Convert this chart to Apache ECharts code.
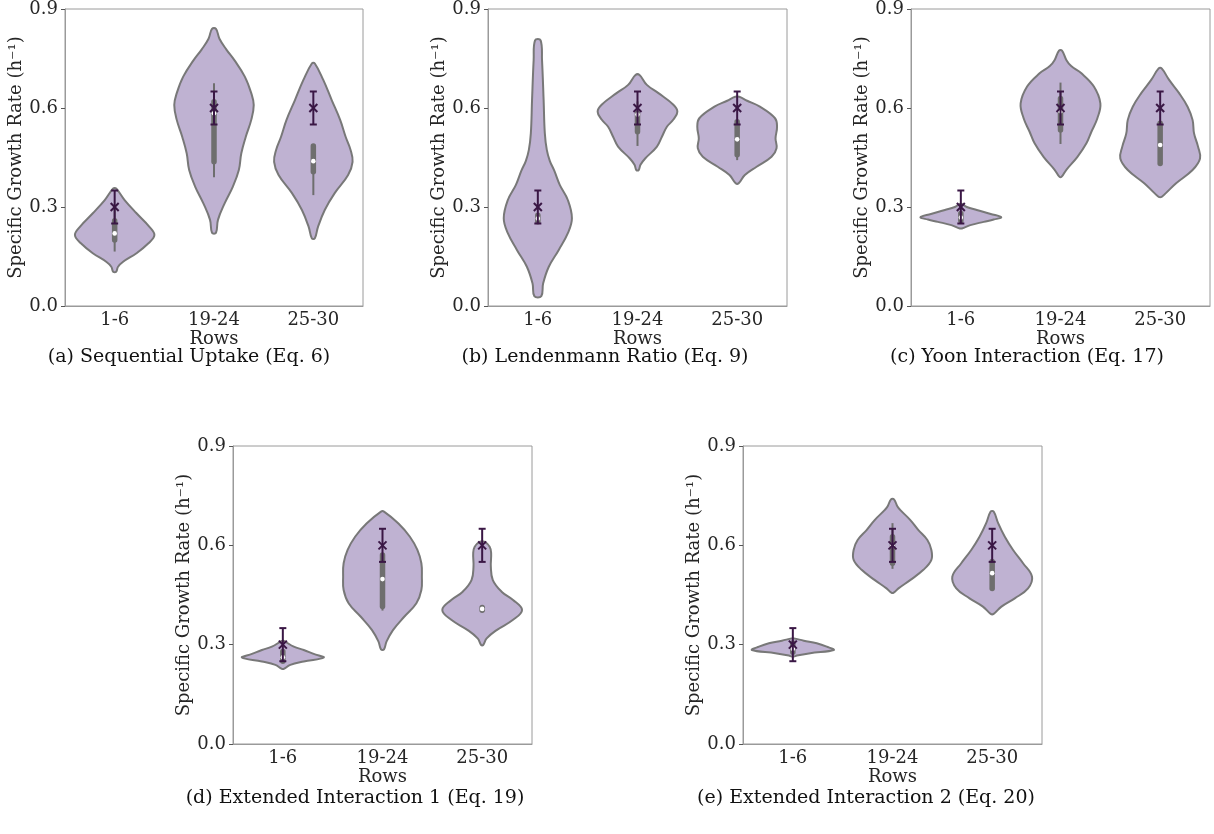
<!DOCTYPE html>
<html>
<head>
<meta charset="utf-8">
<script src="https://cdn.jsdelivr.net/npm/echarts@6/dist/echarts.min.js"></script>
<style>
  html, body { margin: 0; padding: 0; background: #fff; }
  #main { width: 1214px; height: 834px; }
</style>
</head>
<body>
<div id="main"></div>
<script>
// categories and ticks
const categories = ['1-6', '19-24', '25-30'];
const yTicks = [0, 0.3, 0.6, 0.9];
const panelTitles = [
  '(a) Sequential Uptake (Eq. 6)',
  '(b) Lendenmann Ratio (Eq. 9)',
  '(c) Yoon Interaction (Eq. 17)',
  '(d) Extended Interaction 1 (Eq. 19)',
  '(e) Extended Interaction 2 (Eq. 20)'
];

// mean +/- error, same in every panel
const meanValues = [0.3, 0.6, 0.6];
const errLow = [0.25, 0.55, 0.55];
const errHigh = [0.35, 0.65, 0.65];

// violin outlines: [value, half width in category units], top to bottom
const seqUptake = [
  [[0.356,0.015],[0.321,0.10],[0.281,0.22],[0.24,0.35],[0.215,0.40],[0.19,0.34],[0.16,0.22],[0.134,0.085],[0.119,0.034],[0.104,0.015]],
  [[0.84,0.02],[0.81,0.055],[0.777,0.125],[0.745,0.205],[0.695,0.31],[0.645,0.375],[0.609,0.40],[0.564,0.375],[0.513,0.32],[0.463,0.275],[0.412,0.25],[0.362,0.19],[0.311,0.107],[0.261,0.04],[0.222,0.02]],
  [[0.735,0.015],[0.685,0.10],[0.624,0.185],[0.564,0.27],[0.513,0.325],[0.473,0.375],[0.437,0.395],[0.397,0.35],[0.342,0.215],[0.291,0.115],[0.24,0.047],[0.205,0.015]]
];
const lendenmann = [
  [[0.805,0.028],[0.745,0.042],[0.625,0.058],[0.524,0.07],[0.473,0.09],[0.44,0.12],[0.41,0.165],[0.367,0.22],[0.322,0.30],[0.266,0.342],[0.22,0.30],[0.17,0.21],[0.119,0.11],[0.068,0.053],[0.03,0.035]],
  [[0.70,0.02],[0.67,0.094],[0.645,0.21],[0.61,0.36],[0.589,0.40],[0.565,0.36],[0.543,0.295],[0.513,0.245],[0.483,0.195],[0.447,0.077],[0.428,0.03],[0.412,0.012]],
  [[0.634,0.02],[0.622,0.10],[0.604,0.228],[0.569,0.38],[0.543,0.40],[0.508,0.385],[0.478,0.395],[0.452,0.345],[0.422,0.195],[0.397,0.077],[0.372,0.015]]
];
const yoon = [
  [[0.309,0.01],[0.300,0.06],[0.291,0.16],[0.279,0.30],[0.269,0.405],[0.262,0.33],[0.255,0.23],[0.245,0.095],[0.235,0.01]],
  [[0.774,0.015],[0.745,0.06],[0.727,0.107],[0.705,0.21],[0.665,0.335],[0.614,0.40],[0.569,0.37],[0.528,0.31],[0.493,0.26],[0.452,0.17],[0.412,0.057],[0.392,0.012]],
  [[0.72,0.015],[0.685,0.09],[0.645,0.19],[0.604,0.275],[0.564,0.325],[0.523,0.34],[0.483,0.38],[0.447,0.40],[0.412,0.325],[0.372,0.16],[0.342,0.057],[0.331,0.015]]
];
const extended1 = [
  [[0.311,0.01],[0.294,0.11],[0.284,0.21],[0.272,0.31],[0.261,0.41],[0.249,0.21],[0.239,0.075],[0.227,0.01]],
  [[0.702,0.015],[0.666,0.16],[0.626,0.275],[0.586,0.35],[0.546,0.39],[0.505,0.395],[0.465,0.39],[0.425,0.34],[0.385,0.22],[0.344,0.105],[0.309,0.04],[0.286,0.015]],
  [[0.611,0.02],[0.596,0.075],[0.576,0.09],[0.536,0.087],[0.495,0.107],[0.46,0.195],[0.435,0.31],[0.405,0.40],[0.375,0.31],[0.344,0.145],[0.319,0.045],[0.299,0.01]]
];
const extended2 = [
  [[0.319,0.01],[0.312,0.11],[0.304,0.24],[0.294,0.34],[0.284,0.41],[0.274,0.175],[0.267,0.04],[0.264,0.01]],
  [[0.739,0.015],[0.717,0.05],[0.707,0.077],[0.677,0.177],[0.646,0.26],[0.616,0.35],[0.586,0.39],[0.556,0.39],[0.526,0.31],[0.495,0.177],[0.47,0.06],[0.457,0.012]],
  [[0.702,0.015],[0.667,0.06],[0.626,0.127],[0.586,0.21],[0.546,0.31],[0.505,0.40],[0.47,0.36],[0.44,0.227],[0.415,0.093],[0.393,0.015]]
];

// inner boxes: [whisker low, q1, median, q3, whisker high]
const seqUptakeBox = [[0.165,0.20,0.22,0.258,0.30],[0.39,0.437,0.584,0.619,0.675],[0.336,0.407,0.439,0.485,0.49]];
const lendenmannBox = [[0.25,0.255,0.265,0.275,0.28],[0.485,0.528,0.58,0.584,0.62],[0.442,0.458,0.505,0.558,0.56]];
const yoonBox = [[0.255,0.258,0.268,0.28,0.28],[0.491,0.533,0.59,0.629,0.677],[0.432,0.432,0.488,0.554,0.554]];
const extended1Box = [[0.249,0.25,0.262,0.279,0.279],[0.403,0.415,0.498,0.571,0.575],[0.402,0.404,0.408,0.412,0.414]];
const extended2Box = [[0.275,0.277,0.288,0.305,0.305],[0.529,0.546,0.60,0.626,0.667],[0.47,0.47,0.516,0.551,0.551]];

const violins = [seqUptake, lendenmann, yoon, extended1, extended2];
const boxes = [seqUptakeBox, lendenmannBox, yoonBox, extended1Box, extended2Box];

const grids = [
  { left: 65, top: 9, width: 298, height: 297 },
  { left: 488, top: 9, width: 299, height: 297 },
  { left: 911, top: 9, width: 299, height: 297 },
  { left: 233, top: 446, width: 299, height: 298 },
  { left: 743, top: 446, width: 299, height: 298 }
];
const captionPos = [[189, 357], [605, 357], [1027, 357], [355, 798], [866, 798]];

const FONT = 'DejaVu Serif';
const violinFill = '#bfb2d2';
const violinEdge = '#787878';
const boxColor = '#6e6e6e';
const errColor = '#3a1745';

const chart = echarts.init(document.getElementById('main'));

const xAxes = [], yAxes = [], series = [];
grids.forEach((g, i) => {
  xAxes.push({
    type: 'category', gridIndex: i, data: categories,
    axisLine: { lineStyle: { color: '#9a9a9a', width: 1 } },
    axisTick: { alignWithLabel: true, length: 4, lineStyle: { color: '#555' } },
    axisLabel: { fontFamily: FONT, fontSize: 18, color: '#262626', margin: 5 },
    name: 'Rows', nameLocation: 'middle', nameGap: 22,
    nameTextStyle: { fontFamily: FONT, fontSize: 18, color: '#262626' }
  });
  yAxes.push({
    type: 'value', gridIndex: i, min: yTicks[0], max: yTicks[yTicks.length - 1], interval: 0.3,
    splitLine: { show: false },
    axisLine: { show: true, lineStyle: { color: '#9a9a9a', width: 1 } },
    axisTick: { show: true, length: 4, lineStyle: { color: '#555' } },
    axisLabel: { fontFamily: FONT, fontSize: 18, color: '#262626', margin: 7, formatter: v => v.toFixed(1) },
    name: 'Specific Growth Rate (h\u207B\u00B9)', nameLocation: 'middle', nameGap: 37, nameRotate: 90,
    nameTextStyle: { fontFamily: FONT, fontSize: 18, color: '#262626' }
  });

  const prof = violins[i];
  const stats = boxes[i];

  series.push({
    type: 'custom', xAxisIndex: i, yAxisIndex: i, z: 2,
    data: categories.map((c, k) => [k]),
    renderItem: (params, api) => {
      const k = api.value(0);
      const cx = api.coord([k, 0])[0];
      const bw = api.size([1, 0])[0];
      const right = prof[k].map(p => [cx + p[1] * bw, api.coord([k, p[0]])[1]]);
      const left = prof[k].slice().reverse().map(p => [cx - p[1] * bw, api.coord([k, p[0]])[1]]);
      return {
        type: 'polygon',
        shape: { points: right.concat(left), smooth: 0.4 },
        style: { fill: violinFill, stroke: violinEdge, lineWidth: 2 }
      };
    }
  });

  series.push({
    type: 'custom', xAxisIndex: i, yAxisIndex: i, z: 3,
    data: categories.map((c, k) => [k]),
    renderItem: (params, api) => {
      const k = api.value(0);
      const s = stats[k];
      const cx = api.coord([k, 0])[0];
      const y = v => api.coord([k, v])[1];
      return {
        type: 'group',
        children: [
          { type: 'line', shape: { x1: cx, y1: y(s[0]), x2: cx, y2: y(s[4]) },
            style: { stroke: boxColor, lineWidth: 2 } },
          { type: 'line', shape: { x1: cx, y1: y(s[1]), x2: cx, y2: y(s[3]) },
            style: { stroke: boxColor, lineWidth: 5.5, lineCap: 'round' } },
          { type: 'circle', shape: { cx: cx, cy: y(s[2]), r: 2.3 },
            style: { fill: '#fff' } }
        ]
      };
    }
  });

  series.push({
    type: 'custom', xAxisIndex: i, yAxisIndex: i, z: 4,
    data: categories.map((c, k) => [k, meanValues[k], errLow[k], errHigh[k]]),
    renderItem: (params, api) => {
      const k = api.value(0);
      const cx = api.coord([k, 0])[0];
      const ym = api.coord([k, api.value(1)])[1];
      const yl = api.coord([k, api.value(2)])[1];
      const yh = api.coord([k, api.value(3)])[1];
      const st = { stroke: errColor, lineWidth: 2 };
      const m = 4;
      const c = 3.5;
      return {
        type: 'group',
        children: [
          { type: 'line', shape: { x1: cx, y1: yl, x2: cx, y2: yh }, style: st },
          { type: 'line', shape: { x1: cx - c, y1: yl, x2: cx + c, y2: yl }, style: st },
          { type: 'line', shape: { x1: cx - c, y1: yh, x2: cx + c, y2: yh }, style: st },
          { type: 'line', shape: { x1: cx - m, y1: ym - m, x2: cx + m, y2: ym + m }, style: st },
          { type: 'line', shape: { x1: cx - m, y1: ym + m, x2: cx + m, y2: ym - m }, style: st }
        ]
      };
    }
  });
});

const option = {
  backgroundColor: '#fff',
  animation: false,
  grid: grids.map(g => Object.assign({ show: true, borderColor: '#9a9a9a', borderWidth: 1, containLabel: false }, g)),
  xAxis: xAxes,
  yAxis: yAxes,
  series: series,
  graphic: panelTitles.map((t, i) => ({
    type: 'text', x: captionPos[i][0], y: captionPos[i][1],
    style: { text: t, font: '19px "DejaVu Serif"', fill: '#111', textAlign: 'center', textVerticalAlign: 'middle' }
  }))
};
chart.setOption(option);
</script>
</body>
</html>
